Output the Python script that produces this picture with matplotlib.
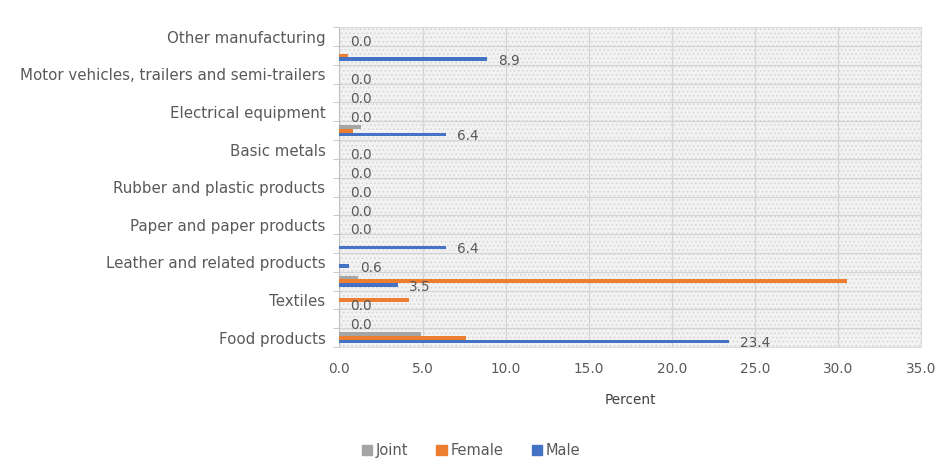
import numpy as np
import matplotlib
matplotlib.use("Agg")
import matplotlib.pyplot as plt
from matplotlib.patches import Rectangle, Patch

# categories bottom -> top (only every other one is labelled on the axis)
categories = [
    "Food products",
    "Beverages",
    "Textiles",
    "Wearing apparel",
    "Leather and related products",
    "Wood and products of wood and cork",
    "Paper and paper products",
    "Printing and reproduction of recorded media",
    "Rubber and plastic products",
    "Other non-metallic mineral products",
    "Basic metals",
    "Fabricated metal products",
    "Electrical equipment",
    "Machinery and equipment n.e.c.",
    "Motor vehicles, trailers and semi-trailers",
    "Furniture",
    "Other manufacturing",
]
joint = [4.9, 0.0, 0.0, 1.1, 0.0, 0.0, 0.0, 0.0, 0.0, 0.0, 0.0, 1.3, 0.0, 0.0, 0.0, 0.0, 0.0]
female = [7.6, 0.0, 4.2, 30.5, 0.0, 0.0, 0.0, 0.0, 0.0, 0.0, 0.0, 0.8, 0.0, 0.0, 0.0, 0.5, 0.0]
male = [23.4, 0.0, 0.0, 3.5, 0.6, 6.4, 0.0, 0.0, 0.0, 0.0, 0.0, 6.4, 0.0, 0.0, 0.0, 8.9, 0.0]
x_ticks = [0, 5, 10, 15, 20, 25, 30, 35]

c_joint = "#A5A5A5"
c_female = "#ED7D31"
c_male = "#4472C4"
txt = "#595959"

plt.rcParams["font.family"] = ["DejaVu Sans"]
plt.rcParams["hatch.linewidth"] = 0.6

fig = plt.figure(figsize=(9.48, 4.61), dpi=100)
ax = fig.add_axes([0.358, 0.247, 0.614, 0.694])

y = np.arange(len(categories))
h = 0.2

# textured plot background
ax.add_patch(Rectangle((0, 0), 1, 1, transform=ax.transAxes, facecolor="#f2f2f2",
                       edgecolor="#d4d4d4", hatch="....", linewidth=0, zorder=0))

ax.barh(y + h, joint, height=h, color=c_joint, zorder=3)
ax.barh(y, female, height=h, color=c_female, zorder=3)
ax.barh(y - h, male, height=h, color=c_male, zorder=3)

for yi, v in zip(y, male):
    ax.annotate(f"{v:.1f}", (v, yi - h - 0.1), xytext=(8, 0), textcoords="offset points",
                va="center", ha="left", fontsize=9.8, color=txt, zorder=4)

ax.set_xlim(0, 35)
ax.set_ylim(-0.5, len(categories) - 0.5)
ax.set_xticks(x_ticks)
ax.set_xticklabels([f"{t:.1f}" for t in x_ticks], fontsize=9.8, color=txt)
ax.set_yticks(y[::2])
ax.set_yticklabels(categories[::2], fontsize=10.8, color=txt)
ax.set_yticks(np.arange(-0.5, len(categories), 1), minor=True)
ax.tick_params(axis="y", which="major", length=0, pad=10)
ax.tick_params(axis="y", which="minor", length=4, color="#bfbfbf", direction="out")
ax.tick_params(axis="x", length=0, pad=11)

ax.grid(axis="x", color="#d4d4d4", linewidth=0.9, zorder=1)
ax.grid(axis="y", which="minor", color="#d4d4d4", linewidth=0.9, zorder=1)
ax.set_axisbelow(True)

for s in ["top", "right", "bottom"]:
    ax.spines[s].set_color("#dcdcdc")
ax.spines["left"].set_color("#bfbfbf")

ax.set_xlabel("Percent", fontsize=9.8, color="#404040", labelpad=12)

handles = [Patch(color=c_joint), Patch(color=c_female), Patch(color=c_male)]
fig.legend(handles, ["Joint", "Female", "Male"], loc="lower center", ncol=3,
           bbox_to_anchor=(0.497, -0.022), frameon=False, fontsize=10.5, handlelength=0.7,
           handleheight=0.7, handletextpad=0.3, columnspacing=1.9, labelcolor=txt)

fig.savefig("out.png", dpi=100)
